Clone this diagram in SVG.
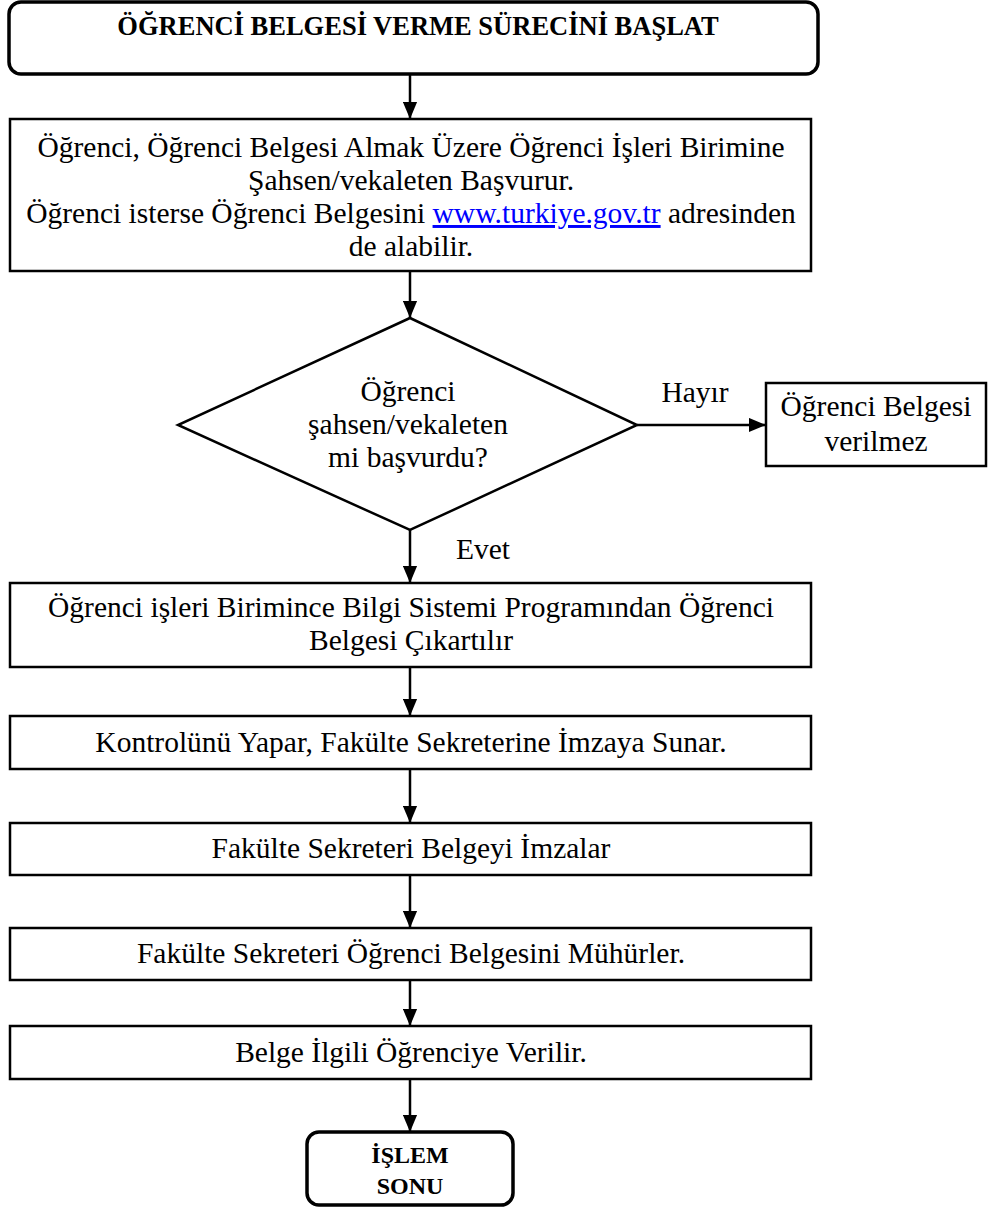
<svg xmlns="http://www.w3.org/2000/svg" width="995" height="1212" viewBox="0 0 995 1212">
<style>
.box{fill:#fff;stroke:#000;stroke-width:2.5}
.term{fill:#fff;stroke:#000;stroke-width:3.5}
.t{font-family:"Liberation Serif","Times New Roman",serif;font-size:29.5px;fill:#000;text-anchor:middle}
.b{font-family:"Liberation Serif","Times New Roman",serif;font-weight:bold;fill:#000;text-anchor:middle}
.c{stroke:#000;stroke-width:2.5;fill:none}
.link{fill:#0000ff;text-decoration:underline}
</style>
<defs>
<marker id="ah" viewBox="0 0 12 10" refX="12" refY="5" markerWidth="7" markerHeight="6" markerUnits="strokeWidth" orient="auto">
<path d="M0,0 L12,5 L0,10 z" fill="#000"/>
</marker>
</defs>
<g id="connectors">
<line class="c" x1="410" y1="74" x2="410" y2="119" marker-end="url(#ah)"/>
<line class="c" x1="410" y1="271" x2="410" y2="318" marker-end="url(#ah)"/>
<line class="c" x1="637" y1="425" x2="766" y2="425" marker-end="url(#ah)"/>
<line class="c" x1="410" y1="530" x2="410" y2="583" marker-end="url(#ah)"/>
<line class="c" x1="410" y1="667" x2="410" y2="716" marker-end="url(#ah)"/>
<line class="c" x1="410" y1="769" x2="410" y2="823" marker-end="url(#ah)"/>
<line class="c" x1="410" y1="875" x2="410" y2="928" marker-end="url(#ah)"/>
<line class="c" x1="410" y1="980" x2="410" y2="1026" marker-end="url(#ah)"/>
<line class="c" x1="410" y1="1079" x2="410" y2="1132" marker-end="url(#ah)"/>
<text class="t" x="695" y="402">Hayır</text>
<text class="t" x="483" y="559">Evet</text>
</g>
<g id="start">
<rect class="term" x="9" y="2" width="809" height="72" rx="12"/>
<text class="b" x="418" y="35" font-size="26.5">ÖĞRENCİ BELGESİ VERME SÜRECİNİ BAŞLAT</text>
</g>
<g id="apply">
<rect class="box" x="10" y="119" width="801" height="152"/>
<text class="t" x="411" y="157">Öğrenci, Öğrenci Belgesi Almak Üzere Öğrenci İşleri Birimine</text>
<text class="t" x="411" y="190">Şahsen/vekaleten Başvurur.</text>
<text class="t" x="411" y="223">Öğrenci isterse Öğrenci Belgesini <tspan class="link">www.turkiye.gov.tr</tspan> adresinden</text>
<text class="t" x="411" y="256">de alabilir.</text>
</g>
<g id="decision">
<polygon class="box" points="410,318 637,425 410,530 178,425"/>
<text class="t" x="408" y="401">Öğrenci</text>
<text class="t" x="408" y="434">şahsen/vekaleten</text>
<text class="t" x="408" y="467">mi başvurdu?</text>
</g>
<g id="refuse">
<rect class="box" x="766" y="383" width="220" height="83"/>
<text class="t" x="876" y="416">Öğrenci Belgesi</text>
<text class="t" x="876" y="451">verilmez</text>
</g>
<g id="produce">
<rect class="box" x="10" y="583" width="801" height="84"/>
<text class="t" x="411" y="617">Öğrenci işleri Birimince Bilgi Sistemi Programından Öğrenci</text>
<text class="t" x="411" y="650">Belgesi Çıkartılır</text>
</g>
<g id="check">
<rect class="box" x="10" y="716" width="801" height="53"/>
<text class="t" x="411" y="752">Kontrolünü Yapar, Fakülte Sekreterine İmzaya Sunar.</text>
</g>
<g id="sign">
<rect class="box" x="10" y="823" width="801" height="52"/>
<text class="t" x="411" y="858">Fakülte Sekreteri Belgeyi İmzalar</text>
</g>
<g id="seal">
<rect class="box" x="10" y="928" width="801" height="52"/>
<text class="t" x="411" y="963">Fakülte Sekreteri Öğrenci Belgesini Mühürler.</text>
</g>
<g id="deliver">
<rect class="box" x="10" y="1026" width="801" height="53"/>
<text class="t" x="411" y="1062">Belge İlgili Öğrenciye Verilir.</text>
</g>
<g id="end">
<rect class="term" x="307" y="1132" width="206" height="73" rx="12"/>
<text class="b" x="410" y="1163" font-size="24">İŞLEM</text>
<text class="b" x="410" y="1194" font-size="24">SONU</text>
</g>
</svg>
